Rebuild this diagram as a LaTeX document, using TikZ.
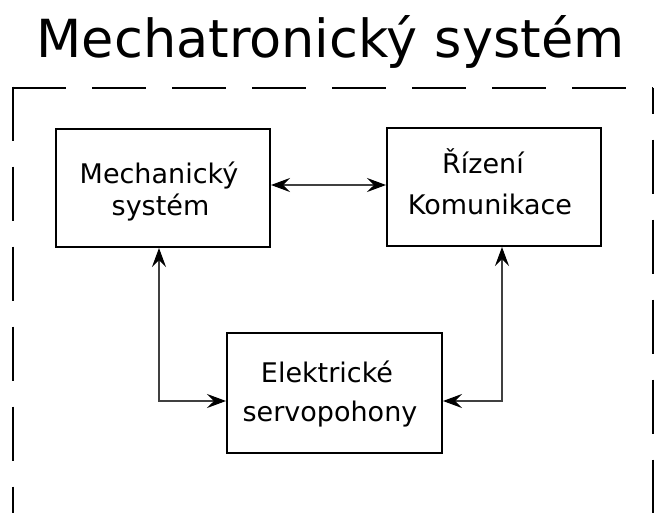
\documentclass[tikz,border=0pt]{standalone}
\usepackage{fontspec}
\setmainfont{DejaVu Sans}
\usetikzlibrary{arrows.meta}
\begin{document}
\begin{tikzpicture}[x=1pt,y=-1pt,
  blockbox/.style={draw=black, line width=2pt, inner sep=0pt,
    minimum width=214pt, minimum height=118pt},
  boxtext/.style={anchor=base, inner sep=0pt, font=\fontsize{27}{32}\selectfont},
  link/.style={line width=1.1pt, draw=black!75,
    {Stealth[length=19pt,width=14pt,inset=7pt,black]}-{Stealth[length=19pt,width=14pt,inset=7pt,black]}},
  frameside/.style={draw=black, line width=2pt, dash pattern=on 54pt off 26pt}]
\clip (0,0) rectangle (654,512);

% heading
\node[anchor=base, inner sep=0pt, font=\fontsize{52.5}{60}\selectfont] (title) at (330.5,57) {Mechatronický systém};

% dashed system boundary (its lower edge lies below the page)
\draw[frameside] (12,87.5) -- (653,87.5);
\draw[frameside] (13,86.5) -- (13,560);
\draw[frameside, dash phase=28pt] (652.5,87.5) -- (652.5,560);

% blocks
\node[blockbox] (mech) at (163,188) {};
\node[blockbox] (riz) at (494,187) {};
\node[blockbox, minimum width=215pt, minimum height=120pt] (elek) at (334.5,393) {};

\node[boxtext] (mech1) at (159,183) {Mechanický};
\node[boxtext] (mech2) at (160.5,215) {systém};
\node[boxtext] (riz1) at (483,173) {Řízení};
\node[boxtext] (riz2) at (490,214) {Komunikace};
\node[boxtext] (elek1) at (327,382) {Elektrické};
\node[boxtext] (elek2) at (330,421) {servopohony};

% connections
\draw[link] ([yshift=3pt]mech.east) -- ([yshift=3pt]mech.east -| riz.west);
\draw[link] ([xshift=-4pt]mech.south) |- ([yshift=-8pt]elek.west);
\draw[link] ([xshift=8pt]riz.south) |- ([yshift=-8pt]elek.east);
\end{tikzpicture}
\end{document}
